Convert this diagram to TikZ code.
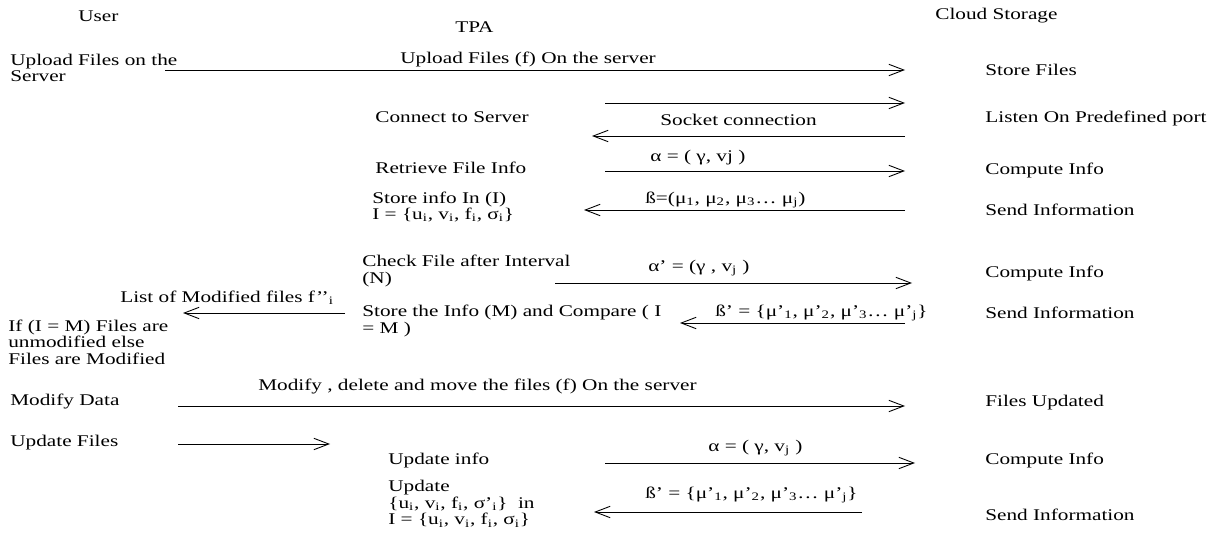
\documentclass[tikz,border=0pt]{standalone}
\usepackage{fontspec}
\setmainfont{Liberation Serif}[FakeStretch=1.3]
\usetikzlibrary{arrows.meta}

\newcommand{\sub}[1]{\textsubscript{#1}}

\begin{document}
\begin{tikzpicture}[x=0.02cm, y=-0.02cm, every node/.style={anchor=west, inner sep=0pt, align=left, font=\fontsize{9.3}{9.4}\selectfont},
    msg/.style={line width=0.5pt, -{Straight Barb[length=8.5pt, width=6.5pt]}}]
    \useasboundingbox (0,0) rectangle (1213,533);

    % Headers
    \node (user)  at (78,16)  {User};
    \node (tpa)   at (455,27) {TPA};
    \node (cloud) at (935,16) {Cloud Storage};

    % User side
    \node (upload)   at (10,68)  {Upload Files  on the\\Server};
    \node (verdict)  at (8,342)  {If (I = M) Files  are\\unmodified else\\Files  are Modified};
    \node (modify)   at (10,402) {Modify Data};
    \node (updfiles) at (10,443) {Update Files};

    % TPA side
    \node (connect)  at (375,117) {Connect to Server};
    \node (retrieve) at (375,168) {Retrieve File  Info};
    \node (storeI)   at (372,207) {Store info In (I)\\I = \{u\sub{i}, v\sub{i}, f\sub{i}, σ\sub{i}\}};
    \node (check)    at (362,271) {Check File  after  Interval\\(N)};
    \node (compare)  at (362,321) {Store the Info (M) and Compare ( I\\= M )};
    \node (updinfo)  at (388,460) {Update info};
    \node (updI)     at (388,504) {Update\\\{u\sub{i}, v\sub{i}, f\sub{i}, σ’\sub{i}\}~~in\\I = \{u\sub{i}, v\sub{i}, f\sub{i}, σ\sub{i}\}};

    % Cloud side
    \node (storefiles) at (985,70)  {Store Files};
    \node (listen)     at (985,118) {Listen On Predefined port};
    \node (compute1)   at (985,170) {Compute Info};
    \node (send1)      at (985,210) {Send Information};
    \node (compute2)   at (985,273) {Compute Info};
    \node (send2)      at (985,313) {Send Information};
    \node (filesupd)   at (985,403) {Files  Updated};
    \node (compute3)   at (985,460) {Compute Info};
    \node (send3)      at (985,515) {Send Information};

    % Message labels
    \node (lupload) at (400,59)  {Upload Files  (f) On the server};
    \node (lsocket) at (660,120) {Socket connection};
    \node (lalpha)  at (650,158) {α = ( γ, vj )};
    \node (lbeta)   at (645,200) {ß=(μ\sub{1}, μ\sub{2}, μ\sub{3}… μ\sub{j})};
    \node (lalphaN) at (648,268) {α’ = (γ , v\sub{j} )};
    \node (lbetaN)  at (715,313) {ß’ = \{μ’\sub{1}, μ’\sub{2}, μ’\sub{3}… μ’\sub{j}\}};
    \node (llist)   at (120,298) {List of Modified files  f’’\sub{i}};
    \node (lmodify) at (258,387) {Modify , delete and move the files (f) On the server};
    \node (lalphaU) at (708,448) {α = ( γ, v\sub{j} )};
    \node (lbetaU)  at (645,495) {ß’ = \{μ’\sub{1}, μ’\sub{2}, μ’\sub{3}… μ’\sub{j}\}};

    % Arrow ends
    \coordinate (u1) at (165,70);  \coordinate (c1) at (905,70);
    \coordinate (t2) at (605,103); \coordinate (c2) at (905,103);
    \coordinate (c3) at (905,136); \coordinate (t3) at (592,136);
    \coordinate (t4) at (605,171); \coordinate (c4) at (905,171);
    \coordinate (c5) at (905,210); \coordinate (t5) at (584,210);
    \coordinate (t6) at (555,283); \coordinate (c6) at (912,283);
    \coordinate (c7) at (905,323); \coordinate (t7) at (680,323);
    \coordinate (t8) at (345,313); \coordinate (u8) at (183,313);
    \coordinate (u9) at (178,406); \coordinate (c9) at (905,406);
    \coordinate (u10) at (178,444); \coordinate (t10) at (330,444);
    \coordinate (t11) at (605,463); \coordinate (c11) at (915,463);
    \coordinate (c12) at (862,512); \coordinate (t12) at (594,512);

    % Messages
    \draw[msg] (u1) -- (c1); \draw[msg] (t2) -- (c2); \draw[msg] (c3) -- (t3);
    \draw[msg] (t4) -- (c4); \draw[msg] (c5) -- (t5);
    \draw[msg] (t6) -- (c6); \draw[msg] (c7) -- (t7); \draw[msg] (t8) -- (u8);
    \draw[msg] (u9) -- (c9); \draw[msg] (u10) -- (t10);
    \draw[msg] (t11) -- (c11); \draw[msg] (c12) -- (t12);

\end{tikzpicture}
\end{document}
